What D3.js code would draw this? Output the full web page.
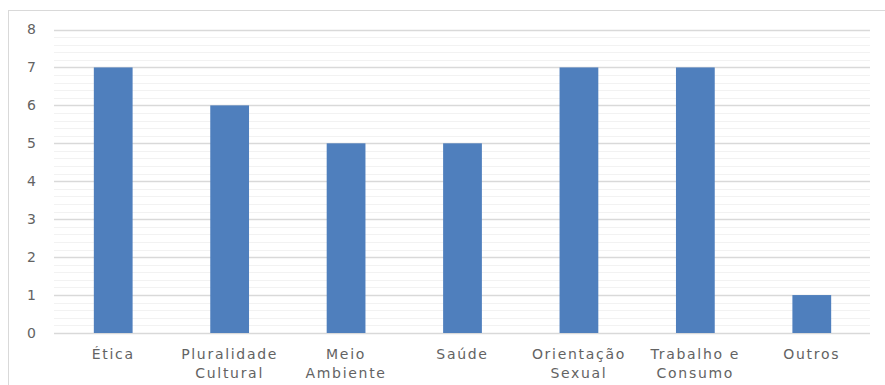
<!DOCTYPE html>
<html>
<head>
<meta charset="utf-8">
<script src="https://cdn.jsdelivr.net/npm/d3@7"></script>
<style>
  html, body { margin: 0; padding: 0; background: #fff; }
  svg { display: block; }
</style>
</head>
<body>
<svg id="chart" width="885" height="385"></svg>
<script>
// Temas transversais: número de ocorrências por tema
const categories = [
  ["Ética"],
  ["Pluralidade", "Cultural"],
  ["Meio", "Ambiente"],
  ["Saúde"],
  ["Orientação", "Sexual"],
  ["Trabalho e", "Consumo"],
  ["Outros"]
];
const values = [7, 6, 5, 5, 7, 7, 1];
const yTicks = [0, 1, 2, 3, 4, 5, 6, 7, 8];
const yMinorTicks = d3.range(0, 8.0001, 0.2);

const W = 885, H = 385;
const plot = { left: 55, right: 870, top: 29.5, bottom: 333 };

const svg = d3.select("#chart");

// outer chart frame (extends past the visible canvas on the right and bottom)
svg.append("rect")
  .attr("x", 8.5).attr("y", 10.5)
  .attr("width", W + 20).attr("height", H + 20)
  .attr("fill", "#fff")
  .attr("stroke", "#d9d9d9")
  .attr("stroke-width", 1);

const x = d3.scaleBand()
  .domain(d3.range(categories.length))
  .range([plot.left, plot.right])
  .paddingInner(0.667)
  .paddingOuter(0.3335);

const y = d3.scaleLinear()
  .domain([0, 8])
  .range([plot.bottom, plot.top]);

// minor gridlines
svg.append("g")
  .selectAll("line")
  .data(yMinorTicks.filter(v => Math.abs(v - Math.round(v)) > 1e-6))
  .join("line")
  .attr("x1", plot.left - 1).attr("x2", plot.right)
  .attr("y1", d => Math.round(y(d)) + 0.5)
  .attr("y2", d => Math.round(y(d)) + 0.5)
  .attr("stroke", "#f2f2f2")
  .attr("stroke-width", 1.2);

// major gridlines
svg.append("g")
  .selectAll("line")
  .data(yTicks)
  .join("line")
  .attr("x1", plot.left - 1).attr("x2", plot.right)
  .attr("y1", d => Math.round(y(d)) + 0.5)
  .attr("y2", d => Math.round(y(d)) + 0.5)
  .attr("stroke", "#d9d9d9")
  .attr("stroke-width", 1.3);

// bars
svg.append("g")
  .selectAll("rect")
  .data(values)
  .join("rect")
  .attr("x", (d, i) => x(i))
  .attr("width", x.bandwidth())
  .attr("y", d => y(d))
  .attr("height", d => y(0) - y(d))
  .attr("fill", "#4f7fbd");

// y axis labels
const yAxis = d3.axisLeft(y).tickValues(yTicks).tickSize(0).tickPadding(0);
const gy = svg.append("g")
  .attr("transform", `translate(${36},0)`)
  .call(yAxis);
gy.select(".domain").remove();
gy.selectAll("text")
  .attr("font-family", "DejaVu Sans, sans-serif")
  .attr("font-size", 14)
  .attr("fill", "#636363")
  .attr("letter-spacing", "0px");

// category labels
const gx = svg.append("g");
categories.forEach((lines, i) => {
  const t = gx.append("text")
    .attr("x", x(i) + x.bandwidth() / 2)
    .attr("y", 359)
    .attr("text-anchor", "middle")
    .attr("font-family", "DejaVu Sans, sans-serif")
    .attr("font-size", 14)
    .attr("letter-spacing", "1.7px")
    .attr("fill", "#636363");
  lines.forEach((s, k) => {
    t.append("tspan")
      .attr("x", x(i) + x.bandwidth() / 2)
      .attr("dy", k === 0 ? 0 : 19)
      .text(s);
  });
});
</script>
</body>
</html>
